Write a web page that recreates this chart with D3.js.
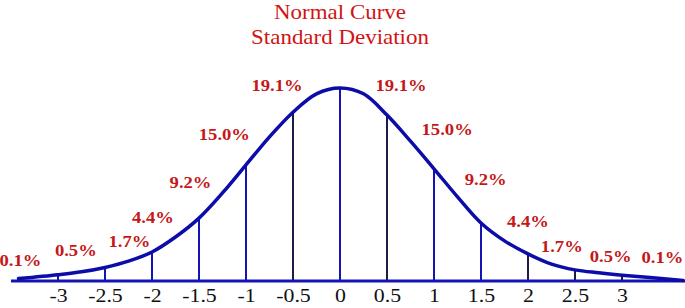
<!DOCTYPE html>
<html>
<head>
<meta charset="utf-8">
<script src="https://cdn.jsdelivr.net/npm/d3@7"></script>
<style>
  html, body { margin: 0; padding: 0; background: #ffffff; }
  svg { display: block; }
  .serif { font-family: 'Liberation Serif', 'Times New Roman', Times, serif; }
</style>
</head>
<body>
<svg id="chart" width="685" height="308"></svg>
<script>
// ---- data ----
const titleLines = ["Normal Curve", "Standard Deviation"];
const curveX = [-3.42, -3, -2.75, -2.5, -2.25, -2, -1.75, -1.5, -1.25, -1, -0.75, -0.5, -0.25, 0,
                0.25, 0.5, 0.75, 1, 1.25, 1.5, 1.75, 2, 2.25, 2.5, 2.75, 3, 3.3, 3.65];
const curveY = [0.005, 0.013, 0.019, 0.028, 0.041, 0.060, 0.091, 0.130, 0.182, 0.240, 0.298, 0.349, 0.387, 0.399,
                0.387, 0.343, 0.289, 0.232, 0.174, 0.120, 0.083, 0.056, 0.035, 0.023, 0.017, 0.012, 0.007, 0.001];
const tickValues = [-3, -2.5, -2, -1.5, -1, -0.5, 0, 0.5, 1, 1.5, 2, 2.5, 3];
const tickLabels = ["-3", "-2.5", "-2", "-1.5", "-1", "-0.5", "0", "0.5", "1", "1.5", "2", "2.5", "3"];
const percentLabels = ["0.1%", "0.5%", "1.7%", "4.4%", "9.2%", "15.0%", "19.1%",
                       "19.1%", "15.0%", "9.2%", "4.4%", "1.7%", "0.5%", "0.1%"];
// label anchors in data coordinates (z, density)
const labelZ = [-3.40, -2.81, -2.24, -1.99, -1.59, -1.23, -0.67, 0.65, 1.14, 1.55, 2.00, 2.36, 2.88, 3.43];
const labelD = [0.031, 0.052, 0.070, 0.120, 0.192, 0.291, 0.393, 0.393, 0.302, 0.198, 0.112, 0.060, 0.039, 0.037];
const darkLines = [-0.5, 0.5, 2, 2.5, 3];

// ---- scales ----
const svg = d3.select("#chart");
const x = d3.scaleLinear().domain([-3, 3]).range([58, 622]);
const y = d3.scaleLinear().domain([0, 0.399]).range([281, 88]);

const curveVal = z => curveY[curveX.indexOf(z)];

// vertical lines
svg.append("g").selectAll("line").data(tickValues).join("line")
  .attr("x1", d => x(d)).attr("x2", d => x(d))
  .attr("y1", y(0)).attr("y2", d => y(curveVal(d)))
  .attr("stroke", d => darkLines.includes(d) ? "#1c1c48" : "#1414b4")
  .attr("stroke-width", 2);

// baseline axis
const axis = d3.axisBottom(x).tickValues(tickValues).tickSize(0).tickFormat((d, i) => tickLabels[i]);
const gAxis = svg.append("g").attr("transform", `translate(0,${y(0)})`).call(axis);
gAxis.attr("font-family", null).attr("font-size", null);
gAxis.select(".domain").remove();
gAxis.selectAll(".tick text").remove();
gAxis.selectAll(".tick").each(function(d, i) {
  d3.select(this).append("text")
    .attr("class", "serif")
    .attr("transform", "translate(0,21) scale(1.12,1)")
    .attr("text-anchor", "middle")
    .style("font-size", "19.5px")
    .attr("fill", "#111")
    .text(tickLabels[i]);
});
svg.append("line")
  .attr("x1", x(-3.5)).attr("x2", 685)
  .attr("y1", y(0)).attr("y2", y(0))
  .attr("stroke", "#1414b4").attr("stroke-width", 3);

// curve
const line = d3.line().x((d, i) => x(curveX[i])).y(d => y(d)).curve(d3.curveCatmullRom.alpha(0.5));
svg.append("path").datum(curveY)
  .attr("d", line)
  .attr("fill", "none")
  .attr("stroke", "#0c0ca8")
  .attr("stroke-width", 3.5)
  .attr("stroke-linejoin", "round")
  .attr("stroke-linecap", "round");

// percent labels
svg.append("g").selectAll("text").data(percentLabels).join("text")
  .attr("class", "serif")
  .attr("transform", (d, i) => `translate(${x(labelZ[i])},${y(labelD[i])}) scale(1.13,1)`)
  .attr("text-anchor", "middle")
  .style("font-weight", "bold")
  .style("font-size", "16.5px")
  .attr("fill", "#c41818")
  .text(d => d);

// title
svg.append("g").selectAll("text").data(titleLines).join("text")
  .attr("class", "serif")
  .attr("transform", (d, i) => `translate(${x(0)},${19 + i * 25}) scale(1.12,1)`)
  .attr("text-anchor", "middle")
  .style("font-size", "20.5px")
  .attr("fill", "#d01414")
  .text(d => d);
</script>
</body>
</html>
